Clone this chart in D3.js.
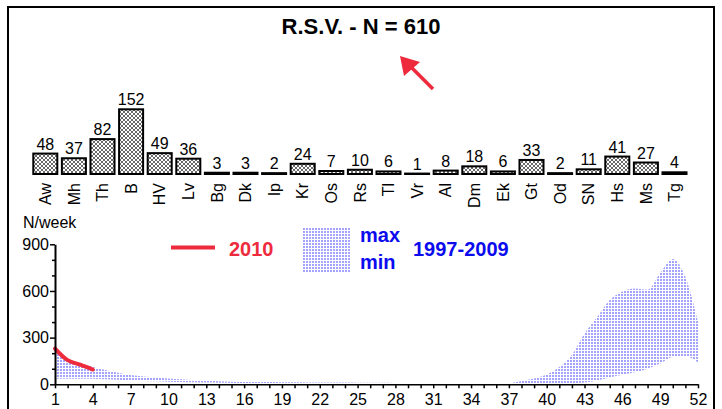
<!DOCTYPE html>
<html>
<head>
<meta charset="utf-8">
<script src="https://cdn.jsdelivr.net/npm/d3@7"></script>
<style>
  body { margin: 0; background: #fff; }
  svg, svg text { font-family: "Liberation Sans", Arial, sans-serif; }
  .axis path, .axis line { stroke: #000; }
  .axis text { font-size: 16px; fill: #000; font-family: "Liberation Sans", Arial, sans-serif; }
</style>
</head>
<body>
<div id="chart"></div>
<script>
(function () {
  // stations and number of RSV detections
  const stations = ["Aw", "Mh", "Th", "B", "HV", "Lv", "Bg", "Dk", "Ip", "Kr", "Os", "Rs",
    "Tl", "Vr", "Al", "Dm", "Ek", "Gt", "Od", "SN", "Hs", "Ms", "Tg"];
  const counts = [48, 37, 82, 152, 49, 36, 3, 3, 2, 24, 7, 10, 6, 1, 8, 18, 6, 33, 2, 11, 41, 27, 4];

  // weekly range 1997-2009 (weeks 1..52)
  const weeks = d3.range(1, 53);
  const maxValues = [220, 152, 132, 112, 92, 74, 60, 50, 44, 38, 33, 28, 24, 20, 17, 15, 15, 14,
    13, 13, 12, 12, 11, 11, 10, 10, 10, 9, 9, 9, 9, 8, 8, 8, 7, 7, 8, 22, 37, 63, 112, 190, 327,
    432, 542, 597, 616, 608, 716, 806, 690, 402];
  const minValues = [36, 36, 36, 35, 32, 29, 26, 22, 19, 17, 15, 13, 11, 10, 9, 7, 6, 5, 5, 4,
    3, 3, 3, 2, 2, 2, 2, 2, 2, 2, 2, 2, 2, 2, 2, 2, 2, 2, 3, 3, 4, 6, 12, 25, 44, 62, 78, 100,
    133, 176, 180, 140];

  // season 2010
  const weeks2010 = [1, 2, 3, 4];
  const values2010 = [230, 155, 126, 95];

  const yTicks = [0, 300, 600, 900];
  const xLabelWeeks = d3.range(1, 53, 3);

  const W = 722, H = 409;
  const red = "#ee2b3d";
  const blue = "#0b0bee";

  const svg = d3.select("#chart").append("svg")
    .attr("width", W).attr("height", H);

  const defs = svg.append("defs");

  // crosshatch for the station bars
  const hatch = defs.append("pattern")
    .attr("id", "hatch")
    .attr("patternUnits", "userSpaceOnUse")
    .attr("width", 4).attr("height", 4);
  hatch.append("rect").attr("width", 4).attr("height", 4).attr("fill", "#fff");
  hatch.append("path")
    .attr("d", "M0,0L4,4M4,0L0,4")
    .attr("stroke", "#444").attr("stroke-width", 0.8);

  // blue dots for the max/min band
  const dots = defs.append("pattern")
    .attr("id", "dots")
    .attr("patternUnits", "userSpaceOnUse")
    .attr("width", 3).attr("height", 3);
  dots.append("rect").attr("width", 3).attr("height", 3).attr("fill", "#fff");
  dots.append("rect").attr("width", 2).attr("height", 2).attr("fill", "#a4a4ff");

  // frame
  svg.append("rect")
    .attr("x", 8).attr("y", 7)
    .attr("width", 706).attr("height", H + 10)
    .attr("fill", "none").attr("stroke", "#000").attr("stroke-width", 2);

  // title
  svg.append("text")
    .attr("x", 361).attr("y", 34)
    .attr("text-anchor", "middle")
    .style("font-size", "22px").style("font-weight", "bold")
    .text("R.S.V. - N = 610");

  // red arrow
  svg.append("line")
    .attr("x1", 433).attr("y1", 89).attr("x2", 408).attr("y2", 64)
    .attr("stroke", red).attr("stroke-width", 3.5);
  svg.append("path")
    .attr("d", "M400,56L404,76L420,62Z")
    .attr("fill", red);

  // ---- station bars ----
  const barBase = 174;
  const xBand = d3.scaleBand()
    .domain(stations)
    .range([31, 31 + stations.length * 28.6])
    .paddingInner(0.16)
    .paddingOuter(0.08);
  const yBar = d3.scaleLinear().domain([0, 152]).range([barBase, 109.3]);

  const bars = svg.append("g");
  bars.selectAll("rect")
    .data(stations)
    .join("rect")
    .attr("x", (d) => xBand(d))
    .attr("y", (d, i) => yBar(counts[i]))
    .attr("width", xBand.bandwidth())
    .attr("height", (d, i) => barBase - yBar(counts[i]))
    .attr("fill", "url(#hatch)")
    .attr("stroke", "#000")
    .attr("stroke-width", 2);

  bars.selectAll("text.value")
    .data(stations)
    .join("text")
    .attr("class", "value")
    .attr("x", (d) => xBand(d) + xBand.bandwidth() / 2)
    .attr("y", (d, i) => yBar(counts[i]) - 4)
    .attr("text-anchor", "middle")
    .style("font-size", "16px")
    .text((d, i) => counts[i]);

  bars.selectAll("text.station")
    .data(stations)
    .join("text")
    .attr("class", "station")
    .attr("transform", (d) =>
      `translate(${xBand(d) + xBand.bandwidth() / 2},${barBase + 9}) rotate(-90)`)
    .attr("dy", "0.36em")
    .attr("text-anchor", "end")
    .style("font-size", "16px")
    .text((d) => d);

  // ---- weekly chart ----
  const x = d3.scaleLinear().domain([1, 52]).range([55, 698]);
  const y = d3.scaleLinear().domain([0, 900]).range([384.3, 244.3]);

  const area = d3.area()
    .x((d, i) => x(weeks[i]))
    .y0((d, i) => y(minValues[i]))
    .y1((d, i) => y(maxValues[i]))
    .curve(d3.curveMonotoneX);

  svg.append("path")
    .datum(weeks)
    .attr("d", area)
    .attr("fill", "url(#dots)");

  const line = d3.line()
    .x((d, i) => x(weeks2010[i]))
    .y((d, i) => y(values2010[i]))
    .curve(d3.curveMonotoneX);

  svg.append("path")
    .datum(values2010)
    .attr("d", line)
    .attr("fill", "none")
    .attr("stroke", red)
    .attr("stroke-width", 4)
    .attr("stroke-linecap", "round");

  // x axis: a tick every week, label every 3 weeks
  const xAxis = svg.append("g")
    .attr("class", "axis")
    .attr("transform", `translate(0,${y(0)})`)
    .call(d3.axisBottom(x)
      .tickValues(weeks)
      .tickSize(4)
      .tickPadding(5)
      .tickSizeOuter(0)
      .tickFormat((d) => (xLabelWeeks.includes(d) ? d : "")));
  xAxis.select(".domain").attr("stroke-width", 1.5);
  xAxis.selectAll(".tick line").attr("stroke-width", 1.5);

  // y axis with minor ticks every 100
  const yMinor = svg.append("g")
    .attr("class", "axis")
    .attr("transform", `translate(${x(1)},0)`)
    .call(d3.axisLeft(y)
      .tickValues(d3.range(0, 901, 100).filter((v) => !yTicks.includes(v)))
      .tickSize(3)
      .tickFormat(""));
  yMinor.select(".domain").remove();
  yMinor.selectAll(".tick line").attr("stroke-width", 1.5);

  const yAxis = svg.append("g")
    .attr("class", "axis")
    .attr("transform", `translate(${x(1)},0)`)
    .call(d3.axisLeft(y)
      .tickValues(yTicks)
      .tickSize(5)
      .tickPadding(1)
      .tickSizeOuter(0));
  yAxis.select(".domain").attr("stroke-width", 2);
  yAxis.selectAll(".tick line").attr("stroke-width", 1.5);

  svg.append("text")
    .attr("x", 23).attr("y", 228)
    .style("font-size", "16px")
    .text("N/week");

  // legend
  svg.append("line")
    .attr("x1", 171).attr("x2", 215)
    .attr("y1", 247.5).attr("y2", 247.5)
    .attr("stroke", red).attr("stroke-width", 4);
  svg.append("text")
    .attr("x", 229).attr("y", 255.5)
    .attr("fill", red)
    .style("font-size", "20px").style("font-weight", "bold")
    .text("2010");

  svg.append("rect")
    .attr("x", 303).attr("y", 228)
    .attr("width", 48).attr("height", 44)
    .attr("fill", "url(#dots)");
  svg.append("text")
    .attr("x", 360).attr("y", 241.5)
    .attr("fill", blue)
    .style("font-size", "20px").style("font-weight", "bold")
    .text("max");
  svg.append("text")
    .attr("x", 360).attr("y", 268.5)
    .attr("fill", blue)
    .style("font-size", "20px").style("font-weight", "bold")
    .text("min");
  svg.append("text")
    .attr("x", 413).attr("y", 255.5)
    .attr("fill", blue)
    .style("font-size", "20px").style("font-weight", "bold")
    .text("1997-2009");
})();
</script>
</body>
</html>
